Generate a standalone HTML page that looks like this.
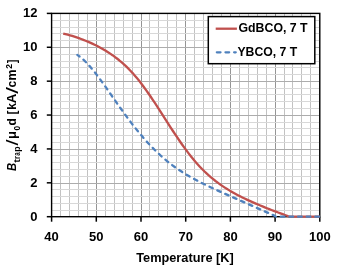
<!DOCTYPE html>
<html><head><meta charset="utf-8"><style>
html,body{margin:0;padding:0;background:#fff;width:338px;height:270px;overflow:hidden}
svg{display:block}
text{font-family:"Liberation Sans",sans-serif;font-weight:bold;fill:#000}
.gs{filter:grayscale(1)}
</style></head><body>
<svg width="338" height="270" viewBox="0 0 338 270">
<rect width="338" height="270" fill="#fff"/>
<g shape-rendering="auto">
<line x1="51.50" y1="13.40" x2="51.50" y2="216.70" stroke="#959595" stroke-width="1"/>
<line x1="60.50" y1="13.40" x2="60.50" y2="216.70" stroke="#c2c2c2" stroke-width="1"/>
<line x1="69.50" y1="13.40" x2="69.50" y2="216.70" stroke="#c2c2c2" stroke-width="1"/>
<line x1="78.50" y1="13.40" x2="78.50" y2="216.70" stroke="#c2c2c2" stroke-width="1"/>
<line x1="87.50" y1="13.40" x2="87.50" y2="216.70" stroke="#c2c2c2" stroke-width="1"/>
<line x1="96.50" y1="13.40" x2="96.50" y2="216.70" stroke="#959595" stroke-width="1"/>
<line x1="105.50" y1="13.40" x2="105.50" y2="216.70" stroke="#c2c2c2" stroke-width="1"/>
<line x1="114.50" y1="13.40" x2="114.50" y2="216.70" stroke="#c2c2c2" stroke-width="1"/>
<line x1="123.50" y1="13.40" x2="123.50" y2="216.70" stroke="#c2c2c2" stroke-width="1"/>
<line x1="132.50" y1="13.40" x2="132.50" y2="216.70" stroke="#c2c2c2" stroke-width="1"/>
<line x1="141.50" y1="13.40" x2="141.50" y2="216.70" stroke="#959595" stroke-width="1"/>
<line x1="149.50" y1="13.40" x2="149.50" y2="216.70" stroke="#c2c2c2" stroke-width="1"/>
<line x1="158.50" y1="13.40" x2="158.50" y2="216.70" stroke="#c2c2c2" stroke-width="1"/>
<line x1="167.50" y1="13.40" x2="167.50" y2="216.70" stroke="#c2c2c2" stroke-width="1"/>
<line x1="176.50" y1="13.40" x2="176.50" y2="216.70" stroke="#c2c2c2" stroke-width="1"/>
<line x1="185.50" y1="13.40" x2="185.50" y2="216.70" stroke="#959595" stroke-width="1"/>
<line x1="194.50" y1="13.40" x2="194.50" y2="216.70" stroke="#c2c2c2" stroke-width="1"/>
<line x1="203.50" y1="13.40" x2="203.50" y2="216.70" stroke="#c2c2c2" stroke-width="1"/>
<line x1="212.50" y1="13.40" x2="212.50" y2="216.70" stroke="#c2c2c2" stroke-width="1"/>
<line x1="221.50" y1="13.40" x2="221.50" y2="216.70" stroke="#c2c2c2" stroke-width="1"/>
<line x1="230.50" y1="13.40" x2="230.50" y2="216.70" stroke="#959595" stroke-width="1"/>
<line x1="239.50" y1="13.40" x2="239.50" y2="216.70" stroke="#c2c2c2" stroke-width="1"/>
<line x1="248.50" y1="13.40" x2="248.50" y2="216.70" stroke="#c2c2c2" stroke-width="1"/>
<line x1="257.50" y1="13.40" x2="257.50" y2="216.70" stroke="#c2c2c2" stroke-width="1"/>
<line x1="266.50" y1="13.40" x2="266.50" y2="216.70" stroke="#c2c2c2" stroke-width="1"/>
<line x1="275.50" y1="13.40" x2="275.50" y2="216.70" stroke="#959595" stroke-width="1"/>
<line x1="284.50" y1="13.40" x2="284.50" y2="216.70" stroke="#c2c2c2" stroke-width="1"/>
<line x1="292.50" y1="13.40" x2="292.50" y2="216.70" stroke="#c2c2c2" stroke-width="1"/>
<line x1="301.50" y1="13.40" x2="301.50" y2="216.70" stroke="#c2c2c2" stroke-width="1"/>
<line x1="310.50" y1="13.40" x2="310.50" y2="216.70" stroke="#c2c2c2" stroke-width="1"/>
<line x1="319.50" y1="13.40" x2="319.50" y2="216.70" stroke="#959595" stroke-width="1"/>
<line x1="51.60" y1="216.50" x2="319.80" y2="216.50" stroke="#acacac" stroke-width="1"/>
<line x1="51.60" y1="210.50" x2="319.80" y2="210.50" stroke="#d8d8d8" stroke-width="1"/>
<line x1="51.60" y1="203.50" x2="319.80" y2="203.50" stroke="#d8d8d8" stroke-width="1"/>
<line x1="51.60" y1="196.50" x2="319.80" y2="196.50" stroke="#d8d8d8" stroke-width="1"/>
<line x1="51.60" y1="189.50" x2="319.80" y2="189.50" stroke="#d8d8d8" stroke-width="1"/>
<line x1="51.60" y1="183.50" x2="319.80" y2="183.50" stroke="#acacac" stroke-width="1"/>
<line x1="51.60" y1="176.50" x2="319.80" y2="176.50" stroke="#d8d8d8" stroke-width="1"/>
<line x1="51.60" y1="169.50" x2="319.80" y2="169.50" stroke="#d8d8d8" stroke-width="1"/>
<line x1="51.60" y1="162.50" x2="319.80" y2="162.50" stroke="#d8d8d8" stroke-width="1"/>
<line x1="51.60" y1="155.50" x2="319.80" y2="155.50" stroke="#d8d8d8" stroke-width="1"/>
<line x1="51.60" y1="149.50" x2="319.80" y2="149.50" stroke="#acacac" stroke-width="1"/>
<line x1="51.60" y1="142.50" x2="319.80" y2="142.50" stroke="#d8d8d8" stroke-width="1"/>
<line x1="51.60" y1="135.50" x2="319.80" y2="135.50" stroke="#d8d8d8" stroke-width="1"/>
<line x1="51.60" y1="128.50" x2="319.80" y2="128.50" stroke="#d8d8d8" stroke-width="1"/>
<line x1="51.60" y1="122.50" x2="319.80" y2="122.50" stroke="#d8d8d8" stroke-width="1"/>
<line x1="51.60" y1="115.50" x2="319.80" y2="115.50" stroke="#acacac" stroke-width="1"/>
<line x1="51.60" y1="108.50" x2="319.80" y2="108.50" stroke="#d8d8d8" stroke-width="1"/>
<line x1="51.60" y1="101.50" x2="319.80" y2="101.50" stroke="#d8d8d8" stroke-width="1"/>
<line x1="51.60" y1="94.50" x2="319.80" y2="94.50" stroke="#d8d8d8" stroke-width="1"/>
<line x1="51.60" y1="88.50" x2="319.80" y2="88.50" stroke="#d8d8d8" stroke-width="1"/>
<line x1="51.60" y1="81.50" x2="319.80" y2="81.50" stroke="#acacac" stroke-width="1"/>
<line x1="51.60" y1="74.50" x2="319.80" y2="74.50" stroke="#d8d8d8" stroke-width="1"/>
<line x1="51.60" y1="67.50" x2="319.80" y2="67.50" stroke="#d8d8d8" stroke-width="1"/>
<line x1="51.60" y1="61.50" x2="319.80" y2="61.50" stroke="#d8d8d8" stroke-width="1"/>
<line x1="51.60" y1="54.50" x2="319.80" y2="54.50" stroke="#d8d8d8" stroke-width="1"/>
<line x1="51.60" y1="47.50" x2="319.80" y2="47.50" stroke="#acacac" stroke-width="1"/>
<line x1="51.60" y1="40.50" x2="319.80" y2="40.50" stroke="#d8d8d8" stroke-width="1"/>
<line x1="51.60" y1="33.50" x2="319.80" y2="33.50" stroke="#d8d8d8" stroke-width="1"/>
<line x1="51.60" y1="27.50" x2="319.80" y2="27.50" stroke="#d8d8d8" stroke-width="1"/>
<line x1="51.60" y1="20.50" x2="319.80" y2="20.50" stroke="#d8d8d8" stroke-width="1"/>
<line x1="51.60" y1="13.50" x2="319.80" y2="13.50" stroke="#acacac" stroke-width="1"/>
</g>
<g stroke="#000" stroke-width="1.5">
<line x1="46.80" y1="216.70" x2="51.60" y2="216.70"/>
<line x1="46.80" y1="182.82" x2="51.60" y2="182.82"/>
<line x1="46.80" y1="148.93" x2="51.60" y2="148.93"/>
<line x1="46.80" y1="115.05" x2="51.60" y2="115.05"/>
<line x1="46.80" y1="81.17" x2="51.60" y2="81.17"/>
<line x1="46.80" y1="47.28" x2="51.60" y2="47.28"/>
<line x1="46.80" y1="13.40" x2="51.60" y2="13.40"/>
<line x1="51.60" y1="216.70" x2="51.60" y2="221.70"/>
<line x1="96.30" y1="216.70" x2="96.30" y2="221.70"/>
<line x1="141.00" y1="216.70" x2="141.00" y2="221.70"/>
<line x1="185.70" y1="216.70" x2="185.70" y2="221.70"/>
<line x1="230.40" y1="216.70" x2="230.40" y2="221.70"/>
<line x1="275.10" y1="216.70" x2="275.10" y2="221.70"/>
<line x1="319.80" y1="216.70" x2="319.80" y2="221.70"/>
</g>
<rect x="51.60" y="13.40" width="268.20" height="203.30" fill="none" stroke="#000" stroke-width="1.4"/>
<path d="M63.22,33.57 L65.46,34.09 L67.70,34.66 L69.94,35.27 L72.18,35.93 L74.42,36.63 L76.66,37.36 L78.90,38.14 L81.14,38.96 L83.38,39.81 L85.62,40.71 L87.86,41.64 L90.10,42.62 L92.33,43.64 L94.57,44.71 L96.81,45.82 L99.05,46.99 L101.29,48.20 L103.53,49.47 L105.77,50.80 L108.01,52.20 L110.25,53.66 L112.49,55.19 L114.73,56.80 L116.97,58.49 L119.21,60.27 L121.45,62.14 L123.69,64.12 L125.93,66.19 L128.17,68.38 L130.40,70.69 L132.64,73.11 L134.88,75.65 L137.12,78.31 L139.36,81.09 L141.60,83.97 L143.84,86.97 L146.08,90.06 L148.32,93.24 L150.56,96.50 L152.80,99.83 L155.04,103.22 L157.28,106.65 L159.52,110.12 L161.76,113.61 L164.00,117.11 L166.24,120.60 L168.48,124.09 L170.71,127.56 L172.95,131.00 L175.19,134.39 L177.43,137.73 L179.67,141.01 L181.91,144.22 L184.15,147.36 L186.39,150.41 L188.63,153.37 L190.87,156.23 L193.11,158.99 L195.35,161.65 L197.59,164.21 L199.83,166.66 L202.07,169.01 L204.31,171.25 L206.55,173.39 L208.78,175.43 L211.02,177.38 L213.26,179.23 L215.50,181.00 L217.74,182.69 L219.98,184.31 L222.22,185.85 L224.46,187.34 L226.70,188.76 L228.94,190.14 L231.18,191.46 L233.42,192.73 L235.66,193.96 L237.90,195.16 L240.14,196.31 L242.38,197.44 L244.62,198.53 L246.85,199.59 L249.09,200.63 L251.33,201.64 L253.57,202.63 L255.81,203.60 L258.05,204.55 L260.29,205.48 L262.53,206.40 L264.77,207.31 L267.01,208.20 L269.25,209.08 L271.49,209.95 L273.73,210.81 L275.97,211.66 L278.21,212.50 L280.45,213.33 L282.69,214.16 L284.93,214.97 L287.16,215.78 L289.40,216.70 L319.80,216.70" fill="none" stroke="#C0504D" stroke-width="2.3" stroke-linejoin="round"/>
<path d="M77.30,54.89 L79.56,56.46 L81.82,58.28 L84.08,60.31 L86.33,62.55 L88.59,64.97 L90.85,67.54 L93.11,70.26 L95.37,73.09 L97.62,76.02 L99.88,79.04 L102.14,82.13 L104.40,85.27 L106.65,88.46 L108.91,91.66 L111.17,94.89 L113.43,98.12 L115.69,101.34 L117.94,104.55 L120.20,107.73 L122.46,110.88 L124.72,114.00 L126.98,117.08 L129.23,120.10 L131.49,123.08 L133.75,126.00 L136.01,128.87 L138.26,131.67 L140.52,134.40 L142.78,137.07 L145.04,139.66 L147.30,142.19 L149.55,144.64 L151.81,147.01 L154.07,149.31 L156.33,151.54 L158.59,153.69 L160.84,155.76 L163.10,157.76 L165.36,159.69 L167.62,161.54 L169.87,163.33 L172.13,165.05 L174.39,166.70 L176.65,168.30 L178.91,169.83 L181.16,171.32 L183.42,172.75 L185.68,174.14 L187.94,175.48 L190.20,176.78 L192.45,178.05 L194.71,179.28 L196.97,180.48 L199.23,181.66 L201.48,182.81 L203.74,183.93 L206.00,185.03 L208.26,186.12 L210.52,187.19 L212.77,188.24 L215.03,189.29 L217.29,190.32 L219.55,191.34 L221.81,192.36 L224.06,193.36 L226.32,194.37 L228.58,195.37 L230.84,196.37 L233.09,197.36 L235.35,198.36 L237.61,199.35 L239.87,200.35 L242.13,201.34 L244.38,202.34 L246.64,203.34 L248.90,204.34 L251.16,205.34 L253.42,206.34 L255.67,207.34 L257.93,208.34 L260.19,209.34 L262.45,210.34 L264.70,211.34 L266.96,212.34 L269.22,213.33 L271.48,214.32 L273.74,215.30 L275.99,216.70 L319.80,216.70" fill="none" stroke="#4F81BD" stroke-width="2.3" stroke-dasharray="3.66,4.985" stroke-dashoffset="0.9" stroke-linecap="round" stroke-linejoin="round"/>
<rect x="208.3" y="16.6" width="106.5" height="47.1" fill="#fff" stroke="#000" stroke-width="1.5"/>
<line x1="215.7" y1="28.7" x2="236.9" y2="28.7" stroke="#C0504D" stroke-width="2.3"/>
<line x1="216.85" y1="52.35" x2="235.75" y2="52.35" stroke="#4F81BD" stroke-width="2.3" stroke-dasharray="3.66,4.985" stroke-linecap="round"/>
<g class="gs">
<g style="font-size:13.0px">
<text x="37.4" y="220.70" text-anchor="end">0</text>
<text x="37.4" y="186.82" text-anchor="end">2</text>
<text x="37.4" y="152.93" text-anchor="end">4</text>
<text x="37.4" y="119.05" text-anchor="end">6</text>
<text x="37.4" y="85.17" text-anchor="end">8</text>
<text x="37.4" y="51.28" text-anchor="end">10</text>
<text x="37.4" y="17.40" text-anchor="end">12</text>
<text x="51.60" y="240.6" text-anchor="middle">40</text>
<text x="96.30" y="240.6" text-anchor="middle">50</text>
<text x="141.00" y="240.6" text-anchor="middle">60</text>
<text x="185.70" y="240.6" text-anchor="middle">70</text>
<text x="230.40" y="240.6" text-anchor="middle">80</text>
<text x="275.10" y="240.6" text-anchor="middle">90</text>
<text x="319.80" y="240.6" text-anchor="middle">100</text>
</g>
<text x="185" y="261.6" text-anchor="middle" style="font-size:13px" textLength="97.6" lengthAdjust="spacingAndGlyphs">Temperature [K]</text>
<g transform="translate(15.6,0) rotate(-90)">
<text x="-171.10" y="0" style="font-size:13.0px" font-style="italic" textLength="8.11" lengthAdjust="spacingAndGlyphs">B</text>
<text x="-162.83" y="3.9" style="font-size:8.8px" textLength="3.67" lengthAdjust="spacingAndGlyphs">t</text>
<text x="-159.07" y="3.9" style="font-size:8.8px" textLength="2.78" lengthAdjust="spacingAndGlyphs">r</text>
<text x="-155.78" y="3.9" style="font-size:8.8px" textLength="3.44" lengthAdjust="spacingAndGlyphs">a</text>
<text x="-151.79" y="3.9" style="font-size:8.8px" textLength="5.45" lengthAdjust="spacingAndGlyphs">p</text>
<text x="-145.60" y="2.0" style="font-size:16.5px;font-weight:normal" textLength="6.00" lengthAdjust="spacingAndGlyphs">/</text>
<text x="-139.02" y="0" style="font-size:13.0px" textLength="7.98" lengthAdjust="spacingAndGlyphs">μ</text>
<text x="-130.43" y="4.1" style="font-size:9.0px" textLength="4.68" lengthAdjust="spacingAndGlyphs">0</text>
<text x="-125.49" y="0" style="font-size:13.0px" textLength="7.27" lengthAdjust="spacingAndGlyphs">d</text>
<text x="-114.58" y="0" style="font-size:13.0px" textLength="4.03" lengthAdjust="spacingAndGlyphs">[</text>
<text x="-109.65" y="0" style="font-size:13.0px" textLength="6.73" lengthAdjust="spacingAndGlyphs">k</text>
<text x="-103.23" y="0" style="font-size:13.0px" textLength="9.58" lengthAdjust="spacingAndGlyphs">A</text>
<text x="-93.80" y="2.0" style="font-size:16.5px;font-weight:normal" textLength="6.70" lengthAdjust="spacingAndGlyphs">/</text>
<text x="-87.57" y="0" style="font-size:13.0px" textLength="6.73" lengthAdjust="spacingAndGlyphs">c</text>
<text x="-80.52" y="0" style="font-size:13.0px" textLength="11.10" lengthAdjust="spacingAndGlyphs">m</text>
<text x="-68.70" y="-4.0" style="font-size:9.0px" textLength="4.74" lengthAdjust="spacingAndGlyphs">2</text>
<text x="-63.34" y="0" style="font-size:13.0px" textLength="3.77" lengthAdjust="spacingAndGlyphs">]</text>
</g>
<text x="238.5" y="32.3" style="font-size:12.6px" textLength="69.1" lengthAdjust="spacingAndGlyphs">GdBCO, 7 T</text>
<text x="237.4" y="55.9" style="font-size:12.6px" textLength="59.8" lengthAdjust="spacingAndGlyphs">YBCO, 7 T</text>
</g>
</svg>
</body></html>
